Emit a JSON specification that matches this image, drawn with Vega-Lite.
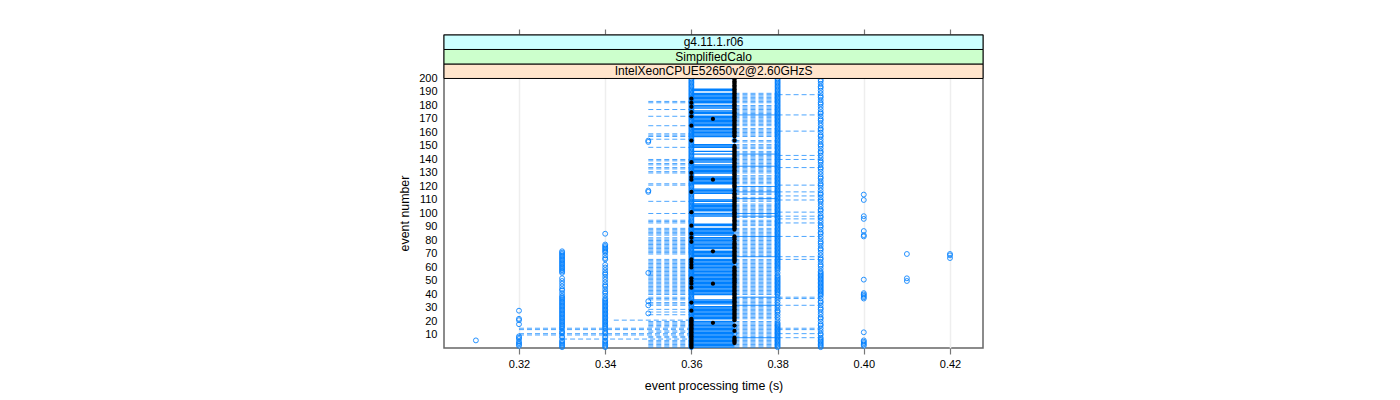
{"$schema":"https://vega.github.io/schema/vega-lite/v6.json","width":539,"height":313,"autosize":{"type":"none"},"padding":{"left":444,"top":35,"right":417,"bottom":52},"background":"white","view":{"stroke":"#666666","strokeWidth":1.5},
"config":{"font":"Liberation Sans"},
"resolve":{"axis":{"x":"independent","y":"independent"}},
"datasets":{
"strips":[{"name":"IntelXeonCPUE52650v2@2.60GHzS","lo":200,"mid":205.37,"hi":210.74},{"name":"SimplifiedCalo","lo":210.74,"mid":216.11,"hi":221.48},{"name":"g4.11.1.r06","lo":221.48,"mid":226.85,"hi":232.2}],
"solid2":[{"e":173},{"e":144},{"e":135},{"e":120},{"e":116},{"e":111},{"e":100},{"e":98},{"e":83},{"e":68},{"e":38},{"e":32},{"e":8}],
"solid":[{"e":1},{"e":2},{"e":3},{"e":4},{"e":5},{"e":6},{"e":7},{"e":8},{"e":9},{"e":10},{"e":11},{"e":12},{"e":13},{"e":14},{"e":15},{"e":16},{"e":17},{"e":18},{"e":19},{"e":20},{"e":22},{"e":23},{"e":24},{"e":25},{"e":26},{"e":27},{"e":28},{"e":29},{"e":30},{"e":31},{"e":33},{"e":34},{"e":35},{"e":36},{"e":40},{"e":41},{"e":42},{"e":43},{"e":44},{"e":45},{"e":46},{"e":47},{"e":48},{"e":49},{"e":50},{"e":51},{"e":52},{"e":53},{"e":54},{"e":55},{"e":56},{"e":57},{"e":58},{"e":59},{"e":60},{"e":61},{"e":62},{"e":63},{"e":64},{"e":65},{"e":66},{"e":68},{"e":69},{"e":70},{"e":71},{"e":72},{"e":74},{"e":75},{"e":76},{"e":77},{"e":78},{"e":79},{"e":80},{"e":81},{"e":82},{"e":84},{"e":85},{"e":86},{"e":87},{"e":88},{"e":89},{"e":91},{"e":92},{"e":98},{"e":99},{"e":100},{"e":102},{"e":103},{"e":104},{"e":105},{"e":106},{"e":107},{"e":109},{"e":110},{"e":115},{"e":116},{"e":117},{"e":118},{"e":122},{"e":123},{"e":124},{"e":125},{"e":126},{"e":127},{"e":130},{"e":131},{"e":132},{"e":133},{"e":134},{"e":135},{"e":136},{"e":138},{"e":139},{"e":140},{"e":141},{"e":144},{"e":146},{"e":149},{"e":150},{"e":151},{"e":157},{"e":158},{"e":159},{"e":160},{"e":161},{"e":162},{"e":163},{"e":165},{"e":166},{"e":167},{"e":168},{"e":169},{"e":170},{"e":171},{"e":172},{"e":174},{"e":175},{"e":176},{"e":178},{"e":179},{"e":180},{"e":182},{"e":183},{"e":184},{"e":185},{"e":186},{"e":187},{"e":188},{"e":189},{"e":191},{"e":192},{"e":200}],
"dash":[{"e":21,"a":0.342,"b":0.36},{"e":15,"a":0.32,"b":0.36},{"e":14,"a":0.32,"b":0.36},{"e":11,"a":0.32,"b":0.36},{"e":10,"a":0.32,"b":0.36},{"e":7,"a":0.33,"b":0.36},
{"e":121,"a":0.38,"b":0.39},{"e":116,"a":0.38,"b":0.39},{"e":113,"a":0.38,"b":0.39},{"e":110,"a":0.38,"b":0.39},{"e":101,"a":0.38,"b":0.39},{"e":98,"a":0.38,"b":0.39},{"e":96,"a":0.38,"b":0.39},{"e":93,"a":0.38,"b":0.39},{"e":83,"a":0.38,"b":0.39},{"e":68,"a":0.38,"b":0.39},{"e":66,"a":0.38,"b":0.39},{"e":38,"a":0.38,"b":0.39},{"e":37,"a":0.38,"b":0.39},{"e":32,"a":0.38,"b":0.39},{"e":15,"a":0.38,"b":0.39},{"e":14,"a":0.38,"b":0.39},{"e":11,"a":0.38,"b":0.39},{"e":8,"a":0.38,"b":0.39},{"e":188,"a":0.38,"b":0.39},{"e":173,"a":0.38,"b":0.39},{"e":161,"a":0.38,"b":0.39},{"e":143,"a":0.38,"b":0.39},{"e":140,"a":0.38,"b":0.39},{"e":134,"a":0.38,"b":0.39},
{"e":200,"a":0.35,"b":0.36},{"e":183,"a":0.35,"b":0.36},{"e":182,"a":0.35,"b":0.36},{"e":177,"a":0.35,"b":0.36},{"e":172,"a":0.35,"b":0.36},{"e":165,"a":0.35,"b":0.36},{"e":159,"a":0.35,"b":0.36},{"e":158,"a":0.35,"b":0.36},{"e":157,"a":0.35,"b":0.36},{"e":155,"a":0.35,"b":0.36},{"e":149,"a":0.35,"b":0.36},{"e":140,"a":0.35,"b":0.36},{"e":139,"a":0.35,"b":0.36},{"e":137,"a":0.35,"b":0.36},{"e":136,"a":0.35,"b":0.36},{"e":134,"a":0.35,"b":0.36},{"e":133,"a":0.35,"b":0.36},{"e":131,"a":0.35,"b":0.36},{"e":130,"a":0.35,"b":0.36},{"e":122,"a":0.35,"b":0.36},{"e":121,"a":0.35,"b":0.36},{"e":109,"a":0.35,"b":0.36},{"e":100,"a":0.35,"b":0.36},{"e":95,"a":0.35,"b":0.36},{"e":94,"a":0.35,"b":0.36},{"e":93,"a":0.35,"b":0.36},{"e":89,"a":0.35,"b":0.36},{"e":88,"a":0.35,"b":0.36},{"e":87,"a":0.35,"b":0.36},{"e":86,"a":0.35,"b":0.36},{"e":85,"a":0.35,"b":0.36},{"e":84,"a":0.35,"b":0.36},{"e":82,"a":0.35,"b":0.36},{"e":81,"a":0.35,"b":0.36},{"e":80,"a":0.35,"b":0.36},{"e":79,"a":0.35,"b":0.36},{"e":78,"a":0.35,"b":0.36},{"e":77,"a":0.35,"b":0.36},{"e":76,"a":0.35,"b":0.36},{"e":75,"a":0.35,"b":0.36},{"e":74,"a":0.35,"b":0.36},{"e":73,"a":0.35,"b":0.36},{"e":72,"a":0.35,"b":0.36},{"e":71,"a":0.35,"b":0.36},{"e":70,"a":0.35,"b":0.36},{"e":66,"a":0.35,"b":0.36},{"e":65,"a":0.35,"b":0.36},{"e":64,"a":0.35,"b":0.36},{"e":63,"a":0.35,"b":0.36},{"e":62,"a":0.35,"b":0.36},{"e":61,"a":0.35,"b":0.36},{"e":60,"a":0.35,"b":0.36},{"e":59,"a":0.35,"b":0.36},{"e":58,"a":0.35,"b":0.36},{"e":57,"a":0.35,"b":0.36},{"e":56,"a":0.35,"b":0.36},{"e":55,"a":0.35,"b":0.36},{"e":54,"a":0.35,"b":0.36},{"e":53,"a":0.35,"b":0.36},{"e":52,"a":0.35,"b":0.36},{"e":51,"a":0.35,"b":0.36},{"e":50,"a":0.35,"b":0.36},{"e":49,"a":0.35,"b":0.36},{"e":48,"a":0.35,"b":0.36},{"e":47,"a":0.35,"b":0.36},{"e":46,"a":0.35,"b":0.36},{"e":45,"a":0.35,"b":0.36},{"e":44,"a":0.35,"b":0.36},{"e":43,"a":0.35,"b":0.36},{"e":42,"a":0.35,"b":0.36},{"e":41,"a":0.35,"b":0.36},{"e":40,"a":0.35,"b":0.36},{"e":38,"a":0.35,"b":0.36},{"e":37,"a":0.35,"b":0.36},{"e":36,"a":0.35,"b":0.36},{"e":34,"a":0.35,"b":0.36},{"e":33,"a":0.35,"b":0.36},{"e":32,"a":0.35,"b":0.36},{"e":29,"a":0.35,"b":0.36},{"e":27,"a":0.35,"b":0.36},{"e":25,"a":0.35,"b":0.36},{"e":20,"a":0.35,"b":0.36},{"e":19,"a":0.35,"b":0.36},{"e":18,"a":0.35,"b":0.36},{"e":17,"a":0.35,"b":0.36},{"e":16,"a":0.35,"b":0.36},{"e":13,"a":0.35,"b":0.36},{"e":12,"a":0.35,"b":0.36},{"e":9,"a":0.35,"b":0.36},{"e":8,"a":0.35,"b":0.36},{"e":6,"a":0.35,"b":0.36},{"e":5,"a":0.35,"b":0.36},{"e":4,"a":0.35,"b":0.36},{"e":3,"a":0.35,"b":0.36},{"e":2,"a":0.35,"b":0.36},{"e":1,"a":0.35,"b":0.36},
{"e":1,"a":0.37,"b":0.38},{"e":2,"a":0.37,"b":0.38},{"e":3,"a":0.37,"b":0.38},{"e":4,"a":0.37,"b":0.38},{"e":5,"a":0.37,"b":0.38},{"e":6,"a":0.37,"b":0.38},{"e":7,"a":0.37,"b":0.38},{"e":8,"a":0.37,"b":0.38},{"e":9,"a":0.37,"b":0.38},{"e":10,"a":0.37,"b":0.38},{"e":11,"a":0.37,"b":0.38},{"e":12,"a":0.37,"b":0.38},{"e":13,"a":0.37,"b":0.38},{"e":14,"a":0.37,"b":0.38},{"e":15,"a":0.37,"b":0.38},{"e":16,"a":0.37,"b":0.38},{"e":17,"a":0.37,"b":0.38},{"e":18,"a":0.37,"b":0.38},{"e":19,"a":0.37,"b":0.38},{"e":20,"a":0.37,"b":0.38},{"e":22,"a":0.37,"b":0.38},{"e":23,"a":0.37,"b":0.38},{"e":24,"a":0.37,"b":0.38},{"e":25,"a":0.37,"b":0.38},{"e":26,"a":0.37,"b":0.38},{"e":27,"a":0.37,"b":0.38},{"e":28,"a":0.37,"b":0.38},{"e":29,"a":0.37,"b":0.38},{"e":30,"a":0.37,"b":0.38},{"e":31,"a":0.37,"b":0.38},{"e":32,"a":0.37,"b":0.38},{"e":33,"a":0.37,"b":0.38},{"e":34,"a":0.37,"b":0.38},{"e":35,"a":0.37,"b":0.38},{"e":36,"a":0.37,"b":0.38},{"e":37,"a":0.37,"b":0.38},{"e":38,"a":0.37,"b":0.38},{"e":40,"a":0.37,"b":0.38},{"e":41,"a":0.37,"b":0.38},{"e":42,"a":0.37,"b":0.38},{"e":43,"a":0.37,"b":0.38},{"e":44,"a":0.37,"b":0.38},{"e":45,"a":0.37,"b":0.38},{"e":46,"a":0.37,"b":0.38},{"e":47,"a":0.37,"b":0.38},{"e":48,"a":0.37,"b":0.38},{"e":49,"a":0.37,"b":0.38},{"e":50,"a":0.37,"b":0.38},{"e":51,"a":0.37,"b":0.38},{"e":52,"a":0.37,"b":0.38},{"e":53,"a":0.37,"b":0.38},{"e":54,"a":0.37,"b":0.38},{"e":55,"a":0.37,"b":0.38},{"e":56,"a":0.37,"b":0.38},{"e":57,"a":0.37,"b":0.38},{"e":58,"a":0.37,"b":0.38},{"e":59,"a":0.37,"b":0.38},{"e":60,"a":0.37,"b":0.38},{"e":61,"a":0.37,"b":0.38},{"e":62,"a":0.37,"b":0.38},{"e":63,"a":0.37,"b":0.38},{"e":64,"a":0.37,"b":0.38},{"e":65,"a":0.37,"b":0.38},{"e":66,"a":0.37,"b":0.38},{"e":68,"a":0.37,"b":0.38},{"e":69,"a":0.37,"b":0.38},{"e":70,"a":0.37,"b":0.38},{"e":71,"a":0.37,"b":0.38},{"e":72,"a":0.37,"b":0.38},{"e":73,"a":0.37,"b":0.38},{"e":74,"a":0.37,"b":0.38},{"e":75,"a":0.37,"b":0.38},{"e":76,"a":0.37,"b":0.38},{"e":77,"a":0.37,"b":0.38},{"e":78,"a":0.37,"b":0.38},{"e":79,"a":0.37,"b":0.38},{"e":80,"a":0.37,"b":0.38},{"e":81,"a":0.37,"b":0.38},{"e":82,"a":0.37,"b":0.38},{"e":83,"a":0.37,"b":0.38},{"e":84,"a":0.37,"b":0.38},{"e":85,"a":0.37,"b":0.38},{"e":86,"a":0.37,"b":0.38},{"e":87,"a":0.37,"b":0.38},{"e":88,"a":0.37,"b":0.38},{"e":89,"a":0.37,"b":0.38},{"e":91,"a":0.37,"b":0.38},{"e":92,"a":0.37,"b":0.38},{"e":93,"a":0.37,"b":0.38},{"e":94,"a":0.37,"b":0.38},{"e":95,"a":0.37,"b":0.38},{"e":97,"a":0.37,"b":0.38},{"e":98,"a":0.37,"b":0.38},{"e":99,"a":0.37,"b":0.38},{"e":100,"a":0.37,"b":0.38},{"e":101,"a":0.37,"b":0.38},{"e":102,"a":0.37,"b":0.38},{"e":103,"a":0.37,"b":0.38},{"e":104,"a":0.37,"b":0.38},{"e":105,"a":0.37,"b":0.38},{"e":106,"a":0.37,"b":0.38},{"e":107,"a":0.37,"b":0.38},{"e":109,"a":0.37,"b":0.38},{"e":110,"a":0.37,"b":0.38},{"e":111,"a":0.37,"b":0.38},{"e":112,"a":0.37,"b":0.38},{"e":114,"a":0.37,"b":0.38},{"e":115,"a":0.37,"b":0.38},{"e":116,"a":0.37,"b":0.38},{"e":117,"a":0.37,"b":0.38},{"e":118,"a":0.37,"b":0.38},{"e":119,"a":0.37,"b":0.38},{"e":120,"a":0.37,"b":0.38},{"e":122,"a":0.37,"b":0.38},{"e":123,"a":0.37,"b":0.38},{"e":124,"a":0.37,"b":0.38},{"e":125,"a":0.37,"b":0.38},{"e":126,"a":0.37,"b":0.38},{"e":127,"a":0.37,"b":0.38},{"e":128,"a":0.37,"b":0.38},{"e":130,"a":0.37,"b":0.38},{"e":131,"a":0.37,"b":0.38},{"e":132,"a":0.37,"b":0.38},{"e":133,"a":0.37,"b":0.38},{"e":134,"a":0.37,"b":0.38},{"e":135,"a":0.37,"b":0.38},{"e":136,"a":0.37,"b":0.38},{"e":137,"a":0.37,"b":0.38},{"e":138,"a":0.37,"b":0.38},{"e":139,"a":0.37,"b":0.38},{"e":140,"a":0.37,"b":0.38},{"e":141,"a":0.37,"b":0.38},{"e":142,"a":0.37,"b":0.38},{"e":143,"a":0.37,"b":0.38},{"e":144,"a":0.37,"b":0.38},{"e":145,"a":0.37,"b":0.38},{"e":146,"a":0.37,"b":0.38},{"e":148,"a":0.37,"b":0.38},{"e":149,"a":0.37,"b":0.38},{"e":150,"a":0.37,"b":0.38},{"e":151,"a":0.37,"b":0.38},{"e":153,"a":0.37,"b":0.38},{"e":154,"a":0.37,"b":0.38},{"e":157,"a":0.37,"b":0.38},{"e":158,"a":0.37,"b":0.38},{"e":159,"a":0.37,"b":0.38},{"e":160,"a":0.37,"b":0.38},{"e":161,"a":0.37,"b":0.38},{"e":162,"a":0.37,"b":0.38},{"e":163,"a":0.37,"b":0.38},{"e":165,"a":0.37,"b":0.38},{"e":166,"a":0.37,"b":0.38},{"e":167,"a":0.37,"b":0.38},{"e":168,"a":0.37,"b":0.38},{"e":169,"a":0.37,"b":0.38},{"e":170,"a":0.37,"b":0.38},{"e":171,"a":0.37,"b":0.38},{"e":172,"a":0.37,"b":0.38},{"e":173,"a":0.37,"b":0.38},{"e":174,"a":0.37,"b":0.38},{"e":175,"a":0.37,"b":0.38},{"e":176,"a":0.37,"b":0.38},{"e":177,"a":0.37,"b":0.38},{"e":178,"a":0.37,"b":0.38},{"e":179,"a":0.37,"b":0.38},{"e":180,"a":0.37,"b":0.38},{"e":182,"a":0.37,"b":0.38},{"e":183,"a":0.37,"b":0.38},{"e":184,"a":0.37,"b":0.38},{"e":185,"a":0.37,"b":0.38},{"e":186,"a":0.37,"b":0.38},{"e":187,"a":0.37,"b":0.38},{"e":188,"a":0.37,"b":0.38},{"e":189,"a":0.37,"b":0.38}],
"pts":[{"e":6,"t":0.31},{"e":2,"t":0.32},{"e":3,"t":0.32},{"e":4,"t":0.32},{"e":5,"t":0.32},{"e":7,"t":0.32},{"e":8,"t":0.32},{"e":9,"t":0.32},{"e":18,"t":0.32},{"e":21,"t":0.32},{"e":22,"t":0.32},{"e":28,"t":0.32},
{"e":1,"t":0.33},{"e":2,"t":0.33},{"e":3,"t":0.33},{"e":4,"t":0.33},{"e":5,"t":0.33},{"e":6,"t":0.33},{"e":8,"t":0.33},{"e":9,"t":0.33},{"e":11,"t":0.33},{"e":12,"t":0.33},{"e":13,"t":0.33},{"e":15,"t":0.33},{"e":16,"t":0.33},{"e":17,"t":0.33},{"e":18,"t":0.33},{"e":19,"t":0.33},{"e":20,"t":0.33},{"e":21,"t":0.33},{"e":22,"t":0.33},{"e":23,"t":0.33},{"e":24,"t":0.33},{"e":25,"t":0.33},{"e":26,"t":0.33},{"e":27,"t":0.33},{"e":28,"t":0.33},{"e":29,"t":0.33},{"e":30,"t":0.33},{"e":31,"t":0.33},{"e":32,"t":0.33},{"e":33,"t":0.33},{"e":34,"t":0.33},{"e":35,"t":0.33},{"e":36,"t":0.33},{"e":37,"t":0.33},{"e":38,"t":0.33},{"e":39,"t":0.33},{"e":41,"t":0.33},{"e":43,"t":0.33},{"e":44,"t":0.33},{"e":46,"t":0.33},{"e":48,"t":0.33},{"e":50,"t":0.33},{"e":52,"t":0.33},{"e":56,"t":0.33},{"e":57,"t":0.33},{"e":58,"t":0.33},{"e":59,"t":0.33},{"e":60,"t":0.33},{"e":61,"t":0.33},{"e":62,"t":0.33},{"e":63,"t":0.33},{"e":64,"t":0.33},{"e":65,"t":0.33},{"e":66,"t":0.33},{"e":67,"t":0.33},{"e":68,"t":0.33},{"e":69,"t":0.33},{"e":70,"t":0.33},{"e":71,"t":0.33},{"e":72,"t":0.33},
{"e":1,"t":0.34},{"e":2,"t":0.34},{"e":3,"t":0.34},{"e":4,"t":0.34},{"e":5,"t":0.34},{"e":6,"t":0.34},{"e":8,"t":0.34},{"e":9,"t":0.34},{"e":11,"t":0.34},{"e":12,"t":0.34},{"e":13,"t":0.34},{"e":15,"t":0.34},{"e":16,"t":0.34},{"e":17,"t":0.34},{"e":18,"t":0.34},{"e":19,"t":0.34},{"e":20,"t":0.34},{"e":21,"t":0.34},{"e":22,"t":0.34},{"e":23,"t":0.34},{"e":24,"t":0.34},{"e":25,"t":0.34},{"e":26,"t":0.34},{"e":27,"t":0.34},{"e":28,"t":0.34},{"e":29,"t":0.34},{"e":30,"t":0.34},{"e":31,"t":0.34},{"e":32,"t":0.34},{"e":33,"t":0.34},{"e":34,"t":0.34},{"e":35,"t":0.34},{"e":36,"t":0.34},{"e":37,"t":0.34},{"e":39,"t":0.34},{"e":41,"t":0.34},{"e":42,"t":0.34},{"e":44,"t":0.34},{"e":46,"t":0.34},{"e":47,"t":0.34},{"e":49,"t":0.34},{"e":51,"t":0.34},{"e":53,"t":0.34},{"e":55,"t":0.34},{"e":56,"t":0.34},{"e":58,"t":0.34},{"e":60,"t":0.34},{"e":62,"t":0.34},{"e":66,"t":0.34},{"e":67,"t":0.34},{"e":69,"t":0.34},{"e":71,"t":0.34},{"e":72,"t":0.34},{"e":73,"t":0.34},{"e":74,"t":0.34},{"e":75,"t":0.34},{"e":76,"t":0.34},{"e":77,"t":0.34},{"e":85,"t":0.34},
{"e":26,"t":0.35},{"e":32,"t":0.35},{"e":35,"t":0.35},{"e":56,"t":0.35},{"e":116,"t":0.35},{"e":117,"t":0.35},{"e":153,"t":0.35},{"e":154,"t":0.35},
{"e":51,"t":0.4},{"e":41,"t":0.4},{"e":40,"t":0.4},{"e":39,"t":0.4},{"e":38,"t":0.4},{"e":37,"t":0.4},{"e":12,"t":0.4},{"e":6,"t":0.4},{"e":5,"t":0.4},{"e":4,"t":0.4},{"e":3,"t":0.4},{"e":2,"t":0.4},{"e":114,"t":0.4},{"e":110,"t":0.4},{"e":98,"t":0.4},{"e":96,"t":0.4},{"e":87,"t":0.4},{"e":84,"t":0.4},{"e":83,"t":0.4},{"e":70,"t":0.41},{"e":52,"t":0.41},{"e":50,"t":0.41},{"e":70,"t":0.42},{"e":69,"t":0.42},{"e":67,"t":0.42},
{"e":1,"t":0.39},{"e":2,"t":0.39},{"e":3,"t":0.39},{"e":4,"t":0.39},{"e":5,"t":0.39},{"e":6,"t":0.39},{"e":7,"t":0.39},{"e":8,"t":0.39},{"e":10,"t":0.39},{"e":11,"t":0.39},{"e":13,"t":0.39},{"e":15,"t":0.39},{"e":17,"t":0.39},{"e":18,"t":0.39},{"e":20,"t":0.39},{"e":22,"t":0.39},{"e":23,"t":0.39},{"e":25,"t":0.39},{"e":27,"t":0.39},{"e":29,"t":0.39},{"e":30,"t":0.39},{"e":32,"t":0.39},{"e":34,"t":0.39},{"e":35,"t":0.39},{"e":37,"t":0.39},{"e":39,"t":0.39},{"e":40,"t":0.39},{"e":41,"t":0.39},{"e":42,"t":0.39},{"e":43,"t":0.39},{"e":44,"t":0.39},{"e":45,"t":0.39},{"e":46,"t":0.39},{"e":47,"t":0.39},{"e":48,"t":0.39},{"e":49,"t":0.39},{"e":50,"t":0.39},{"e":51,"t":0.39},{"e":52,"t":0.39},{"e":53,"t":0.39},{"e":54,"t":0.39},{"e":55,"t":0.39},{"e":56,"t":0.39},{"e":57,"t":0.39},{"e":59,"t":0.39},{"e":61,"t":0.39},{"e":62,"t":0.39},{"e":64,"t":0.39},{"e":66,"t":0.39},{"e":67,"t":0.39},{"e":69,"t":0.39},{"e":71,"t":0.39},{"e":73,"t":0.39},{"e":74,"t":0.39},{"e":76,"t":0.39},{"e":78,"t":0.39},{"e":79,"t":0.39},{"e":81,"t":0.39},{"e":83,"t":0.39},{"e":85,"t":0.39},{"e":86,"t":0.39},{"e":88,"t":0.39},{"e":90,"t":0.39},{"e":91,"t":0.39},{"e":93,"t":0.39},{"e":95,"t":0.39},{"e":97,"t":0.39},{"e":98,"t":0.39},{"e":100,"t":0.39},{"e":102,"t":0.39},{"e":103,"t":0.39},{"e":105,"t":0.39},{"e":107,"t":0.39},{"e":109,"t":0.39},{"e":110,"t":0.39},{"e":112,"t":0.39},{"e":114,"t":0.39},{"e":115,"t":0.39},{"e":117,"t":0.39},{"e":119,"t":0.39},{"e":121,"t":0.39},{"e":122,"t":0.39},{"e":124,"t":0.39},{"e":126,"t":0.39},{"e":127,"t":0.39},{"e":129,"t":0.39},{"e":131,"t":0.39},{"e":133,"t":0.39},{"e":134,"t":0.39},{"e":136,"t":0.39},{"e":138,"t":0.39},{"e":139,"t":0.39},{"e":141,"t":0.39},{"e":143,"t":0.39},{"e":145,"t":0.39},{"e":146,"t":0.39},{"e":148,"t":0.39},{"e":150,"t":0.39},{"e":151,"t":0.39},{"e":153,"t":0.39},{"e":155,"t":0.39},{"e":157,"t":0.39},{"e":158,"t":0.39},{"e":160,"t":0.39},{"e":162,"t":0.39},{"e":163,"t":0.39},{"e":165,"t":0.39},{"e":167,"t":0.39},{"e":169,"t":0.39},{"e":170,"t":0.39},{"e":172,"t":0.39},{"e":174,"t":0.39},{"e":175,"t":0.39},{"e":177,"t":0.39},{"e":179,"t":0.39},{"e":181,"t":0.39},{"e":182,"t":0.39},{"e":184,"t":0.39},{"e":186,"t":0.39},{"e":187,"t":0.39},{"e":189,"t":0.39},{"e":191,"t":0.39},{"e":193,"t":0.39},{"e":194,"t":0.39},{"e":196,"t":0.39},{"e":198,"t":0.39},{"e":199,"t":0.39},
{"e":1,"t":0.36},{"e":2,"t":0.36},{"e":3,"t":0.36},{"e":4,"t":0.36},{"e":5,"t":0.36},{"e":6,"t":0.36},{"e":7,"t":0.36},{"e":8,"t":0.36},{"e":9,"t":0.36},{"e":10,"t":0.36},{"e":11,"t":0.36},{"e":12,"t":0.36},{"e":13,"t":0.36},{"e":14,"t":0.36},{"e":15,"t":0.36},{"e":16,"t":0.36},{"e":17,"t":0.36},{"e":18,"t":0.36},{"e":19,"t":0.36},{"e":20,"t":0.36},{"e":21,"t":0.36},{"e":22,"t":0.36},{"e":23,"t":0.36},{"e":24,"t":0.36},{"e":25,"t":0.36},{"e":26,"t":0.36},{"e":27,"t":0.36},{"e":28,"t":0.36},{"e":29,"t":0.36},{"e":30,"t":0.36},{"e":31,"t":0.36},{"e":32,"t":0.36},{"e":33,"t":0.36},{"e":34,"t":0.36},{"e":35,"t":0.36},{"e":36,"t":0.36},{"e":37,"t":0.36},{"e":38,"t":0.36},{"e":39,"t":0.36},{"e":40,"t":0.36},{"e":41,"t":0.36},{"e":42,"t":0.36},{"e":43,"t":0.36},{"e":44,"t":0.36},{"e":45,"t":0.36},{"e":46,"t":0.36},{"e":47,"t":0.36},{"e":48,"t":0.36},{"e":49,"t":0.36},{"e":50,"t":0.36},{"e":51,"t":0.36},{"e":52,"t":0.36},{"e":53,"t":0.36},{"e":54,"t":0.36},{"e":55,"t":0.36},{"e":56,"t":0.36},{"e":57,"t":0.36},{"e":58,"t":0.36},{"e":59,"t":0.36},{"e":60,"t":0.36},{"e":61,"t":0.36},{"e":62,"t":0.36},{"e":63,"t":0.36},{"e":64,"t":0.36},{"e":65,"t":0.36},{"e":66,"t":0.36},{"e":67,"t":0.36},{"e":68,"t":0.36},{"e":69,"t":0.36},{"e":70,"t":0.36},{"e":71,"t":0.36},{"e":72,"t":0.36},{"e":73,"t":0.36},{"e":74,"t":0.36},{"e":75,"t":0.36},{"e":76,"t":0.36},{"e":77,"t":0.36},{"e":78,"t":0.36},{"e":79,"t":0.36},{"e":80,"t":0.36},{"e":81,"t":0.36},{"e":82,"t":0.36},{"e":83,"t":0.36},{"e":84,"t":0.36},{"e":85,"t":0.36},{"e":86,"t":0.36},{"e":87,"t":0.36},{"e":88,"t":0.36},{"e":89,"t":0.36},{"e":90,"t":0.36},{"e":91,"t":0.36},{"e":92,"t":0.36},{"e":93,"t":0.36},{"e":94,"t":0.36},{"e":95,"t":0.36},{"e":96,"t":0.36},{"e":97,"t":0.36},{"e":98,"t":0.36},{"e":99,"t":0.36},{"e":100,"t":0.36},{"e":101,"t":0.36},{"e":102,"t":0.36},{"e":103,"t":0.36},{"e":104,"t":0.36},{"e":105,"t":0.36},{"e":106,"t":0.36},{"e":107,"t":0.36},{"e":108,"t":0.36},{"e":109,"t":0.36},{"e":110,"t":0.36},{"e":111,"t":0.36},{"e":112,"t":0.36},{"e":113,"t":0.36},{"e":114,"t":0.36},{"e":115,"t":0.36},{"e":116,"t":0.36},{"e":117,"t":0.36},{"e":118,"t":0.36},{"e":119,"t":0.36},{"e":120,"t":0.36},{"e":121,"t":0.36},{"e":122,"t":0.36},{"e":123,"t":0.36},{"e":124,"t":0.36},{"e":125,"t":0.36},{"e":126,"t":0.36},{"e":127,"t":0.36},{"e":128,"t":0.36},{"e":129,"t":0.36},{"e":130,"t":0.36},{"e":131,"t":0.36},{"e":132,"t":0.36},{"e":133,"t":0.36},{"e":134,"t":0.36},{"e":135,"t":0.36},{"e":136,"t":0.36},{"e":137,"t":0.36},{"e":138,"t":0.36},{"e":139,"t":0.36},{"e":140,"t":0.36},{"e":141,"t":0.36},{"e":142,"t":0.36},{"e":143,"t":0.36},{"e":144,"t":0.36},{"e":145,"t":0.36},{"e":146,"t":0.36},{"e":147,"t":0.36},{"e":148,"t":0.36},{"e":149,"t":0.36},{"e":150,"t":0.36},{"e":151,"t":0.36},{"e":152,"t":0.36},{"e":153,"t":0.36},{"e":154,"t":0.36},{"e":155,"t":0.36},{"e":156,"t":0.36},{"e":157,"t":0.36},{"e":158,"t":0.36},{"e":159,"t":0.36},{"e":160,"t":0.36},{"e":161,"t":0.36},{"e":162,"t":0.36},{"e":163,"t":0.36},{"e":164,"t":0.36},{"e":165,"t":0.36},{"e":166,"t":0.36},{"e":167,"t":0.36},{"e":168,"t":0.36},{"e":169,"t":0.36},{"e":170,"t":0.36},{"e":171,"t":0.36},{"e":172,"t":0.36},{"e":173,"t":0.36},{"e":174,"t":0.36},{"e":175,"t":0.36},{"e":176,"t":0.36},{"e":177,"t":0.36},{"e":178,"t":0.36},{"e":179,"t":0.36},{"e":180,"t":0.36},{"e":181,"t":0.36},{"e":182,"t":0.36},{"e":183,"t":0.36},{"e":184,"t":0.36},{"e":185,"t":0.36},{"e":186,"t":0.36},{"e":187,"t":0.36},{"e":188,"t":0.36},{"e":189,"t":0.36},{"e":190,"t":0.36},{"e":191,"t":0.36},{"e":192,"t":0.36},{"e":193,"t":0.36},{"e":194,"t":0.36},{"e":195,"t":0.36},{"e":196,"t":0.36},{"e":197,"t":0.36},{"e":198,"t":0.36},{"e":199,"t":0.36},{"e":200,"t":0.36},
{"e":1,"t":0.38},{"e":2,"t":0.38},{"e":3,"t":0.38},{"e":4,"t":0.38},{"e":5,"t":0.38},{"e":6,"t":0.38},{"e":7,"t":0.38},{"e":8,"t":0.38},{"e":9,"t":0.38},{"e":10,"t":0.38},{"e":11,"t":0.38},{"e":12,"t":0.38},{"e":13,"t":0.38},{"e":14,"t":0.38},{"e":15,"t":0.38},{"e":16,"t":0.38},{"e":17,"t":0.38},{"e":18,"t":0.38},{"e":19,"t":0.38},{"e":21,"t":0.38},{"e":23,"t":0.38},{"e":25,"t":0.38},{"e":27,"t":0.38},{"e":28,"t":0.38},{"e":30,"t":0.38},{"e":32,"t":0.38},{"e":34,"t":0.38},{"e":36,"t":0.38},{"e":38,"t":0.38},{"e":40,"t":0.38},{"e":41,"t":0.38},{"e":42,"t":0.38},{"e":43,"t":0.38},{"e":44,"t":0.38},{"e":45,"t":0.38},{"e":46,"t":0.38},{"e":47,"t":0.38},{"e":48,"t":0.38},{"e":49,"t":0.38},{"e":50,"t":0.38},{"e":51,"t":0.38},{"e":52,"t":0.38},{"e":53,"t":0.38},{"e":54,"t":0.38},{"e":56,"t":0.38},{"e":58,"t":0.38},{"e":59,"t":0.38},{"e":60,"t":0.38},{"e":61,"t":0.38},{"e":62,"t":0.38},{"e":63,"t":0.38},{"e":64,"t":0.38},{"e":65,"t":0.38},{"e":66,"t":0.38},{"e":67,"t":0.38},{"e":68,"t":0.38},{"e":69,"t":0.38},{"e":70,"t":0.38},{"e":71,"t":0.38},{"e":72,"t":0.38},{"e":73,"t":0.38},{"e":74,"t":0.38},{"e":75,"t":0.38},{"e":76,"t":0.38},{"e":77,"t":0.38},{"e":78,"t":0.38},{"e":79,"t":0.38},{"e":80,"t":0.38},{"e":81,"t":0.38},{"e":82,"t":0.38},{"e":83,"t":0.38},{"e":84,"t":0.38},{"e":85,"t":0.38},{"e":86,"t":0.38},{"e":87,"t":0.38},{"e":88,"t":0.38},{"e":89,"t":0.38},{"e":90,"t":0.38},{"e":91,"t":0.38},{"e":92,"t":0.38},{"e":93,"t":0.38},{"e":94,"t":0.38},{"e":95,"t":0.38},{"e":96,"t":0.38},{"e":97,"t":0.38},{"e":98,"t":0.38},{"e":99,"t":0.38},{"e":100,"t":0.38},{"e":101,"t":0.38},{"e":102,"t":0.38},{"e":103,"t":0.38},{"e":104,"t":0.38},{"e":105,"t":0.38},{"e":106,"t":0.38},{"e":107,"t":0.38},{"e":108,"t":0.38},{"e":109,"t":0.38},{"e":110,"t":0.38},{"e":111,"t":0.38},{"e":112,"t":0.38},{"e":113,"t":0.38},{"e":114,"t":0.38},{"e":115,"t":0.38},{"e":116,"t":0.38},{"e":117,"t":0.38},{"e":118,"t":0.38},{"e":119,"t":0.38},{"e":120,"t":0.38},{"e":121,"t":0.38},{"e":122,"t":0.38},{"e":123,"t":0.38},{"e":124,"t":0.38},{"e":125,"t":0.38},{"e":126,"t":0.38},{"e":127,"t":0.38},{"e":128,"t":0.38},{"e":129,"t":0.38},{"e":130,"t":0.38},{"e":131,"t":0.38},{"e":132,"t":0.38},{"e":133,"t":0.38},{"e":134,"t":0.38},{"e":135,"t":0.38},{"e":136,"t":0.38},{"e":137,"t":0.38},{"e":138,"t":0.38},{"e":139,"t":0.38},{"e":140,"t":0.38},{"e":141,"t":0.38},{"e":142,"t":0.38},{"e":143,"t":0.38},{"e":144,"t":0.38},{"e":145,"t":0.38},{"e":146,"t":0.38},{"e":147,"t":0.38},{"e":148,"t":0.38},{"e":149,"t":0.38},{"e":150,"t":0.38},{"e":151,"t":0.38},{"e":152,"t":0.38},{"e":153,"t":0.38},{"e":154,"t":0.38},{"e":155,"t":0.38},{"e":156,"t":0.38},{"e":157,"t":0.38},{"e":158,"t":0.38},{"e":159,"t":0.38},{"e":160,"t":0.38},{"e":161,"t":0.38},{"e":162,"t":0.38},{"e":163,"t":0.38},{"e":164,"t":0.38},{"e":165,"t":0.38},{"e":166,"t":0.38},{"e":167,"t":0.38},{"e":168,"t":0.38},{"e":169,"t":0.38},{"e":170,"t":0.38},{"e":171,"t":0.38},{"e":172,"t":0.38},{"e":173,"t":0.38},{"e":174,"t":0.38},{"e":175,"t":0.38},{"e":176,"t":0.38},{"e":177,"t":0.38},{"e":178,"t":0.38},{"e":179,"t":0.38},{"e":180,"t":0.38},{"e":181,"t":0.38},{"e":182,"t":0.38},{"e":183,"t":0.38},{"e":184,"t":0.38},{"e":185,"t":0.38},{"e":186,"t":0.38},{"e":187,"t":0.38},{"e":188,"t":0.38},{"e":189,"t":0.38},{"e":190,"t":0.38},{"e":191,"t":0.38},{"e":192,"t":0.38},{"e":193,"t":0.38},{"e":194,"t":0.38},{"e":195,"t":0.38},{"e":196,"t":0.38},{"e":197,"t":0.38},{"e":198,"t":0.38},{"e":199,"t":0.38},{"e":200,"t":0.38},
{"e":50,"t":0.37},{"e":100,"t":0.37},{"e":117,"t":0.37},{"e":154,"t":0.37},{"e":66,"t":0.37},{"e":62,"t":0.37},{"e":16,"t":0.37},{"e":11,"t":0.37}],
"med":[{"e":19,"t":0.365},{"e":48,"t":0.365},{"e":72,"t":0.365},{"e":125,"t":0.365},{"e":170,"t":0.365},
{"e":1,"t":0.36},{"e":2,"t":0.36},{"e":3,"t":0.36},{"e":4,"t":0.36},{"e":5,"t":0.36},{"e":6,"t":0.36},{"e":7,"t":0.36},{"e":8,"t":0.36},{"e":9,"t":0.36},{"e":10,"t":0.36},{"e":11,"t":0.36},{"e":12,"t":0.36},{"e":13,"t":0.36},{"e":14,"t":0.36},{"e":15,"t":0.36},{"e":16,"t":0.36},{"e":17,"t":0.36},{"e":18,"t":0.36},{"e":19,"t":0.36},{"e":20,"t":0.36},{"e":21,"t":0.36},{"e":22,"t":0.36},{"e":28,"t":0.36},{"e":34,"t":0.36},{"e":45,"t":0.36},{"e":48,"t":0.36},{"e":50,"t":0.36},{"e":52,"t":0.36},{"e":60,"t":0.36},{"e":62,"t":0.36},{"e":64,"t":0.36},{"e":66,"t":0.36},{"e":79,"t":0.36},{"e":82,"t":0.36},{"e":85,"t":0.36},{"e":91,"t":0.36},{"e":101,"t":0.36},{"e":116,"t":0.36},{"e":125,"t":0.36},{"e":127,"t":0.36},{"e":130,"t":0.36},{"e":138,"t":0.36},{"e":154,"t":0.36},{"e":165,"t":0.36},{"e":172,"t":0.36},{"e":175,"t":0.36},{"e":179,"t":0.36},{"e":182,"t":0.36},{"e":185,"t":0.36},
{"e":4,"t":0.37},{"e":5,"t":0.37},{"e":6,"t":0.37},{"e":7,"t":0.37},{"e":8,"t":0.37},{"e":13,"t":0.37},{"e":17,"t":0.37},{"e":21,"t":0.37},{"e":22,"t":0.37},{"e":23,"t":0.37},{"e":24,"t":0.37},{"e":25,"t":0.37},{"e":26,"t":0.37},{"e":27,"t":0.37},{"e":28,"t":0.37},{"e":29,"t":0.37},{"e":30,"t":0.37},{"e":31,"t":0.37},{"e":32,"t":0.37},{"e":33,"t":0.37},{"e":34,"t":0.37},{"e":35,"t":0.37},{"e":36,"t":0.37},{"e":37,"t":0.37},{"e":38,"t":0.37},{"e":39,"t":0.37},{"e":40,"t":0.37},{"e":41,"t":0.37},{"e":42,"t":0.37},{"e":43,"t":0.37},{"e":44,"t":0.37},{"e":45,"t":0.37},{"e":46,"t":0.37},{"e":47,"t":0.37},{"e":48,"t":0.37},{"e":49,"t":0.37},{"e":50,"t":0.37},{"e":51,"t":0.37},{"e":52,"t":0.37},{"e":53,"t":0.37},{"e":54,"t":0.37},{"e":55,"t":0.37},{"e":56,"t":0.37},{"e":57,"t":0.37},{"e":58,"t":0.37},{"e":59,"t":0.37},{"e":60,"t":0.37},{"e":64,"t":0.37},{"e":65,"t":0.37},{"e":66,"t":0.37},{"e":67,"t":0.37},{"e":68,"t":0.37},{"e":69,"t":0.37},{"e":70,"t":0.37},{"e":71,"t":0.37},{"e":72,"t":0.37},{"e":73,"t":0.37},{"e":74,"t":0.37},{"e":75,"t":0.37},{"e":76,"t":0.37},{"e":77,"t":0.37},{"e":78,"t":0.37},{"e":79,"t":0.37},{"e":81,"t":0.37},{"e":82,"t":0.37},{"e":83,"t":0.37},{"e":88,"t":0.37},{"e":89,"t":0.37},{"e":90,"t":0.37},{"e":91,"t":0.37},{"e":92,"t":0.37},{"e":93,"t":0.37},{"e":94,"t":0.37},{"e":95,"t":0.37},{"e":96,"t":0.37},{"e":97,"t":0.37},{"e":98,"t":0.37},{"e":99,"t":0.37},{"e":100,"t":0.37},{"e":101,"t":0.37},{"e":102,"t":0.37},{"e":103,"t":0.37},{"e":104,"t":0.37},{"e":105,"t":0.37},{"e":106,"t":0.37},{"e":107,"t":0.37},{"e":108,"t":0.37},{"e":109,"t":0.37},{"e":110,"t":0.37},{"e":111,"t":0.37},{"e":112,"t":0.37},{"e":113,"t":0.37},{"e":114,"t":0.37},{"e":115,"t":0.37},{"e":117,"t":0.37},{"e":119,"t":0.37},{"e":120,"t":0.37},{"e":121,"t":0.37},{"e":122,"t":0.37},{"e":123,"t":0.37},{"e":124,"t":0.37},{"e":125,"t":0.37},{"e":126,"t":0.37},{"e":127,"t":0.37},{"e":128,"t":0.37},{"e":129,"t":0.37},{"e":130,"t":0.37},{"e":131,"t":0.37},{"e":132,"t":0.37},{"e":133,"t":0.37},{"e":134,"t":0.37},{"e":135,"t":0.37},{"e":136,"t":0.37},{"e":137,"t":0.37},{"e":138,"t":0.37},{"e":139,"t":0.37},{"e":140,"t":0.37},{"e":141,"t":0.37},{"e":142,"t":0.37},{"e":143,"t":0.37},{"e":144,"t":0.37},{"e":145,"t":0.37},{"e":146,"t":0.37},{"e":147,"t":0.37},{"e":148,"t":0.37},{"e":149,"t":0.37},{"e":150,"t":0.37},{"e":154,"t":0.37},{"e":157,"t":0.37},{"e":158,"t":0.37},{"e":159,"t":0.37},{"e":160,"t":0.37},{"e":161,"t":0.37},{"e":162,"t":0.37},{"e":163,"t":0.37},{"e":164,"t":0.37},{"e":165,"t":0.37},{"e":166,"t":0.37},{"e":167,"t":0.37},{"e":168,"t":0.37},{"e":169,"t":0.37},{"e":170,"t":0.37},{"e":171,"t":0.37},{"e":172,"t":0.37},{"e":173,"t":0.37},{"e":174,"t":0.37},{"e":175,"t":0.37},{"e":176,"t":0.37},{"e":177,"t":0.37},{"e":178,"t":0.37},{"e":179,"t":0.37},{"e":180,"t":0.37},{"e":181,"t":0.37},{"e":182,"t":0.37},{"e":183,"t":0.37},{"e":184,"t":0.37},{"e":185,"t":0.37},{"e":186,"t":0.37},{"e":187,"t":0.37},{"e":188,"t":0.37},{"e":189,"t":0.37},{"e":190,"t":0.37},{"e":191,"t":0.37},{"e":192,"t":0.37},{"e":193,"t":0.37},{"e":194,"t":0.37},{"e":195,"t":0.37},{"e":196,"t":0.37},{"e":197,"t":0.37},{"e":198,"t":0.37},{"e":199,"t":0.37},{"e":200,"t":0.37}]
},
"layer":[
{"data":{"name":"dash"},"mark":{"type":"rule","color":"#0080ff","strokeWidth":1,"strokeDash":[5,3],"opacity":0.7},
"encoding":{"x":{"field":"a","type":"quantitative","scale":{"domain":[0.3026,0.42766],"nice":false,"zero":false},"axis":{"orient":"bottom","values":[0.32,0.34,0.36,0.38,0.4,0.42],"format":".2f","title":"event processing time (s)","grid":true,"gridColor":"#eeeeee","gridWidth":1.5,"domain":false,"ticks":true,"tickColor":"#777777","tickSize":6,"tickWidth":1.2,"labelFont":"Liberation Sans","labelFontSize":11,"labelColor":"#000000","labelPadding":4,"titleFont":"Liberation Sans","titleFontSize":12.4,"titleFontWeight":"normal","titleColor":"#000000","titlePadding":10}},"x2":{"field":"b"},"y":{"field":"e","type":"quantitative","scale":{"domain":[0.37,232.2],"nice":false,"zero":false},"axis":{"values":[10,20,30,40,50,60,70,80,90,100,110,120,130,140,150,160,170,180,190,200],"title":"event number","grid":false,"domain":false,"ticks":false,"labelFont":"Liberation Sans","labelFontSize":11,"labelColor":"#000000","labelPadding":7,"titleFont":"Liberation Sans","titleFontSize":12.4,"titleFontWeight":"normal","titleColor":"#000000","titleY":178,"titleX":-33}}}},
{"data":{"name":"solid"},"mark":{"type":"rule","color":"#0080ff","strokeWidth":1.35},
"encoding":{"x":{"datum":0.36,"type":"quantitative","scale":{"domain":[0.3026,0.42766],"nice":false,"zero":false},"axis":null},"x2":{"datum":0.37},"y":{"field":"e","type":"quantitative","axis":null}}},
{"data":{"name":"solid2"},"mark":{"type":"rule","color":"#0080ff","strokeWidth":1,"opacity":0.8},
"encoding":{"x":{"datum":0.37,"type":"quantitative","axis":null},"x2":{"datum":0.38},"y":{"field":"e","type":"quantitative","axis":null}}},
{"data":{"name":"pts"},"mark":{"type":"point","shape":"circle","filled":false,"color":"#0080ff","size":24,"strokeWidth":1,"opacity":0.85},
"encoding":{"x":{"field":"t","type":"quantitative","axis":null},"y":{"field":"e","type":"quantitative","axis":null}}},
{"data":{"name":"med"},"mark":{"type":"point","shape":"circle","filled":true,"color":"#000000","size":18,"opacity":1},
"encoding":{"x":{"field":"t","type":"quantitative","axis":null},"y":{"field":"e","type":"quantitative","axis":null}}},
{"data":{"name":"strips"},"mark":{"type":"rect","stroke":"#000000","strokeWidth":1},
"encoding":{"x":{"datum":0.3026,"type":"quantitative","axis":{"orient":"top","values":[0.32,0.34,0.36,0.38,0.4,0.42],"labels":false,"title":null,"grid":false,"domain":false,"ticks":true,"tickColor":"#777777","tickSize":6,"tickWidth":1.2}},"x2":{"datum":0.42766},"y":{"field":"lo","type":"quantitative","axis":null},"y2":{"field":"hi"},"color":{"field":"name","type":"nominal","legend":null,"scale":{"domain":["g4.11.1.r06","SimplifiedCalo","IntelXeonCPUE52650v2@2.60GHzS"],"range":["#ccffff","#ccffcc","#ffe5cc"]}}}},
{"data":{"name":"strips"},"mark":{"type":"text","font":"Liberation Sans","fontSize":12,"color":"#000000","baseline":"middle"},
"encoding":{"x":{"datum":0.36515,"type":"quantitative","axis":null},"y":{"field":"mid","type":"quantitative","axis":null},"text":{"field":"name"}}}
]}
